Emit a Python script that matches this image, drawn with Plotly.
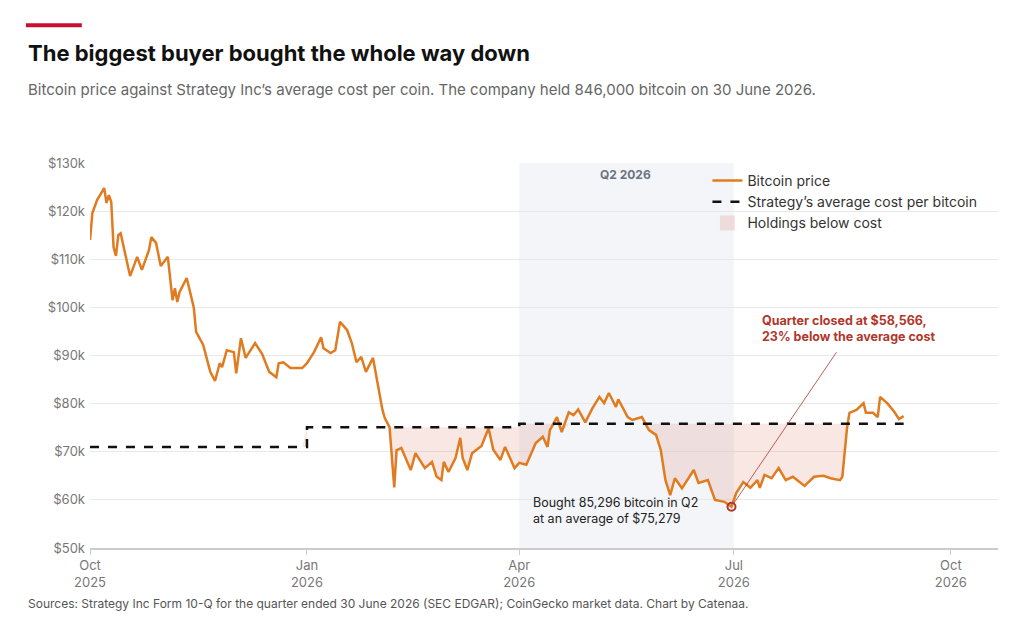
import plotly.graph_objects as go
from datetime import date

# Bitcoin price (USD)
price_dates = [
    "2025-10-01", "2025-10-02", "2025-10-04", "2025-10-07", "2025-10-08", "2025-10-09", "2025-10-10",
    "2025-10-11", "2025-10-12", "2025-10-13", "2025-10-14", "2025-10-18", "2025-10-21", "2025-10-23",
    "2025-10-26", "2025-10-27", "2025-10-29", "2025-10-31", "2025-11-03", "2025-11-05", "2025-11-06",
    "2025-11-07", "2025-11-08", "2025-11-11", "2025-11-14", "2025-11-15", "2025-11-18", "2025-11-21",
    "2025-11-23", "2025-11-25", "2025-11-26", "2025-11-28", "2025-12-01", "2025-12-02", "2025-12-04",
    "2025-12-06", "2025-12-10", "2025-12-13", "2025-12-16", "2025-12-19", "2025-12-20", "2025-12-22",
    "2025-12-25", "2025-12-30", "2026-01-01", "2026-01-04", "2026-01-07", "2026-01-08", "2026-01-11",
    "2026-01-13", "2026-01-15", "2026-01-18", "2026-01-20", "2026-01-22", "2026-01-24", "2026-01-26",
    "2026-01-29", "2026-01-31", "2026-02-02", "2026-02-03", "2026-02-05", "2026-02-07", "2026-02-08",
    "2026-02-10", "2026-02-14", "2026-02-16", "2026-02-20", "2026-02-23", "2026-02-25", "2026-02-27",
    "2026-02-28", "2026-03-02", "2026-03-05", "2026-03-07", "2026-03-08", "2026-03-10", "2026-03-12",
    "2026-03-16", "2026-03-19", "2026-03-21", "2026-03-24", "2026-03-26", "2026-03-30", "2026-04-01",
    "2026-04-04", "2026-04-08", "2026-04-11", "2026-04-13", "2026-04-14", "2026-04-17", "2026-04-19",
    "2026-04-22", "2026-04-24", "2026-04-26", "2026-04-29", "2026-05-02", "2026-05-05", "2026-05-07",
    "2026-05-09", "2026-05-12", "2026-05-13", "2026-05-17", "2026-05-19", "2026-05-23", "2026-05-26",
    "2026-05-29", "2026-05-31", "2026-06-02", "2026-06-04", "2026-06-06", "2026-06-09", "2026-06-14",
    "2026-06-16", "2026-06-20", "2026-06-23", "2026-06-27", "2026-06-30", "2026-07-02", "2026-07-05",
    "2026-07-08", "2026-07-11", "2026-07-12", "2026-07-14", "2026-07-17", "2026-07-20", "2026-07-23",
    "2026-07-26", "2026-07-31", "2026-08-04", "2026-08-08", "2026-08-11", "2026-08-15", "2026-08-16",
    "2026-08-18", "2026-08-19", "2026-08-22", "2026-08-25", "2026-08-26", "2026-08-29", "2026-08-31",
    "2026-09-01", "2026-09-04", "2026-09-07", "2026-09-09", "2026-09-11",
]
price_vals = [
    114000, 119600, 122300, 124800, 121700, 123300, 121900,
    112500, 110700, 115000, 115400, 106500, 110500, 107800,
    111900, 114600, 113400, 108600, 110500, 101500, 104000,
    101100, 103200, 106100, 100000, 94900, 92200, 86600,
    84700, 88400, 87600, 91100, 90700, 86300, 93600,
    89500, 92600, 90300, 86600, 85500, 88400, 88600,
    87400, 87400, 88400, 90700, 93800, 91500, 90500,
    91100, 97000, 95300, 92600, 88600, 89700, 86600,
    89500, 84300, 78700, 77000, 75100, 62600, 70300,
    70800, 66200, 69700, 66600, 67900, 64800, 64100,
    67900, 65800, 68700, 72900, 68700, 66200, 69700,
    71200, 74900, 70400, 68300, 71000, 66600, 67700,
    67300, 71800, 73100, 71000, 74500, 77200, 74100,
    78200, 77600, 78800, 76100, 79000, 81400, 80100,
    82200, 79300, 80900, 77200, 76600, 77200, 74500,
    73500, 70400, 64100, 61000, 64500, 62400, 66200,
    63500, 64100, 60000, 59600, 58566, 61400, 63700,
    62500, 64100, 62500, 65200, 64500, 66600, 64100,
    64800, 62900, 64800, 65000, 64500, 64100, 64800,
    75000, 78100, 78700, 80100, 78100, 78100, 77200,
    81400, 80100, 78300, 76800, 77400,
]

# Strategy's average cost per bitcoin (step changes)
cost_dates = ["2025-10-01", "2026-01-01", "2026-04-01", "2026-09-11"]
cost_vals = [71000, 75100, 75800, 75800]

close_date = "2026-06-30"
close_price = 58566

y_ticks = [50000, 60000, 70000, 80000, 90000, 100000, 110000, 120000, 130000]
y_labels = ["$50k", "$60k", "$70k", "$80k", "$90k", "$100k", "$110k", "$120k", "$130k"]
x_ticks = ["2025-10-01", "2026-01-01", "2026-04-01", "2026-07-01", "2026-10-01"]
x_labels = ["Oct<br>2025", "Jan<br>2026", "Apr<br>2026", "Jul<br>2026", "Oct<br>2026"]

ORANGE = "#e07b20"
RED = "#b0372c"
FONT = "Inter"


def cost_at(d):
    val = cost_vals[0]
    for cd, cv in zip(cost_dates, cost_vals):
        if date.fromisoformat(d) >= date.fromisoformat(cd):
            val = cv
    return val


cost_each = [cost_at(d) for d in price_dates]
lower = [min(p, c) for p, c in zip(price_vals, cost_each)]

fig = go.Figure()

# shaded gap between price and cost when price is below
fig.add_trace(go.Scatter(x=price_dates, y=cost_each, mode="lines", line=dict(width=0, shape="hv"),
                         showlegend=False, hoverinfo="skip"))
fig.add_trace(go.Scatter(x=price_dates, y=lower, mode="lines", line=dict(width=0),
                         fill="tonexty", fillcolor="rgba(214,120,100,0.18)",
                         showlegend=False, hoverinfo="skip"))

fig.add_trace(go.Scatter(x=price_dates, y=price_vals, mode="lines", name="Bitcoin price",
                         line=dict(color=ORANGE, width=2.5)))
fig.add_trace(go.Scatter(x=cost_dates, y=cost_vals, mode="lines",
                         name="Strategy’s average cost per bitcoin",
                         line=dict(color="#111111", width=2.5, dash="dash", shape="hv")))
# legend entry for the fill
fig.add_trace(go.Scatter(x=[None], y=[None], mode="markers", name="Holdings below cost",
                         marker=dict(symbol="square", size=15, color="rgba(214,120,100,0.2)")))

fig.add_trace(go.Scatter(x=[close_date], y=[close_price], mode="markers", showlegend=False,
                         marker=dict(symbol="circle-open", size=8, color=RED, line=dict(width=2))))

fig.add_vrect(x0="2026-04-01", x1="2026-07-01", fillcolor="#eef1f5", opacity=0.7,
              line_width=0, layer="below")

fig.add_annotation(x="2026-05-16", y=1, yref="paper", yanchor="top", text="<b>Q2 2026</b>",
                   showarrow=False, font=dict(family=FONT, size=12, color="#6b7280"), yshift=-2)
fig.add_annotation(x="2026-04-06", y=61500, xanchor="left", yanchor="top", align="left",
                   text="Bought 85,296 bitcoin in Q2<br>at an average of $75,279",
                   showarrow=False, font=dict(family=FONT, size=12.5, color="#222222"))
fig.add_annotation(x=close_date, y=close_price, text="", showarrow=True, arrowhead=0,
                   arrowwidth=0.8, arrowcolor=RED, ax=106, ay=-156, standoff=4)
fig.add_annotation(x="2026-07-12", y=92000, xanchor="left", yanchor="bottom", align="left",
                   text="<b>Quarter closed at $58,566,<br>23% below the average cost</b>",
                   showarrow=False, font=dict(family=FONT, size=12.5, color=RED))

fig.add_annotation(x=0, y=1.247, xref="paper", yref="paper", xanchor="left", yanchor="bottom",
                   xshift=-64, text="<b>The biggest buyer bought the whole way down</b>", showarrow=False,
                   font=dict(family=FONT, size=22, color="#111111"))
fig.add_annotation(x=0, y=1.16, xref="paper", yref="paper", xanchor="left", yanchor="bottom",
                   xshift=-64,
                   text="Bitcoin price against Strategy Inc’s average cost per coin. The company held 846,000 bitcoin on 30 June 2026.",
                   showarrow=False, font=dict(family=FONT, size=15, color="#666666"))
fig.add_annotation(x=0, y=-0.12, xref="paper", yref="paper", xanchor="left", yanchor="top",
                   xshift=-64,
                   text="Sources: Strategy Inc Form 10-Q for the quarter ended 30 June 2026 (SEC EDGAR); CoinGecko market data. Chart by Catenaa.",
                   showarrow=False, font=dict(family=FONT, size=12, color="#555555"))
fig.add_shape(type="line", xref="paper", yref="paper", x0=-0.0705, x1=-0.009, y0=1.358, y1=1.358,
              line=dict(color="#c8102e", width=4))

fig.update_layout(
    width=1024, height=634,
    margin=dict(l=82, r=34, t=155, b=94),
    paper_bgcolor="white", plot_bgcolor="white",
    font=dict(family=FONT, color="#777777"),
    legend=dict(x=0.68, y=0.995, xanchor="left", yanchor="top", bgcolor="rgba(0,0,0,0)",
                traceorder="normal",
                font=dict(family=FONT, size=14, color="#333333"), tracegroupgap=2),
    showlegend=True,
)
fig.update_xaxes(range=["2025-10-01", "2026-10-21"], tickvals=x_ticks, ticktext=x_labels,
                 showgrid=False, showline=True, linecolor="#cccccc", linewidth=1.5,
                 ticks="outside", ticklen=5, tickcolor="#cccccc",
                 tickfont=dict(family=FONT, size=13, color="#777777"))
fig.update_yaxes(range=[50000, 130000], tickvals=y_ticks, ticktext=y_labels,
                 showgrid=True, gridcolor="#e8e8e8", zeroline=False,
                 tickfont=dict(family=FONT, size=13, color="#777777"), ticklabelstandoff=4)

fig.write_html("out.html")
